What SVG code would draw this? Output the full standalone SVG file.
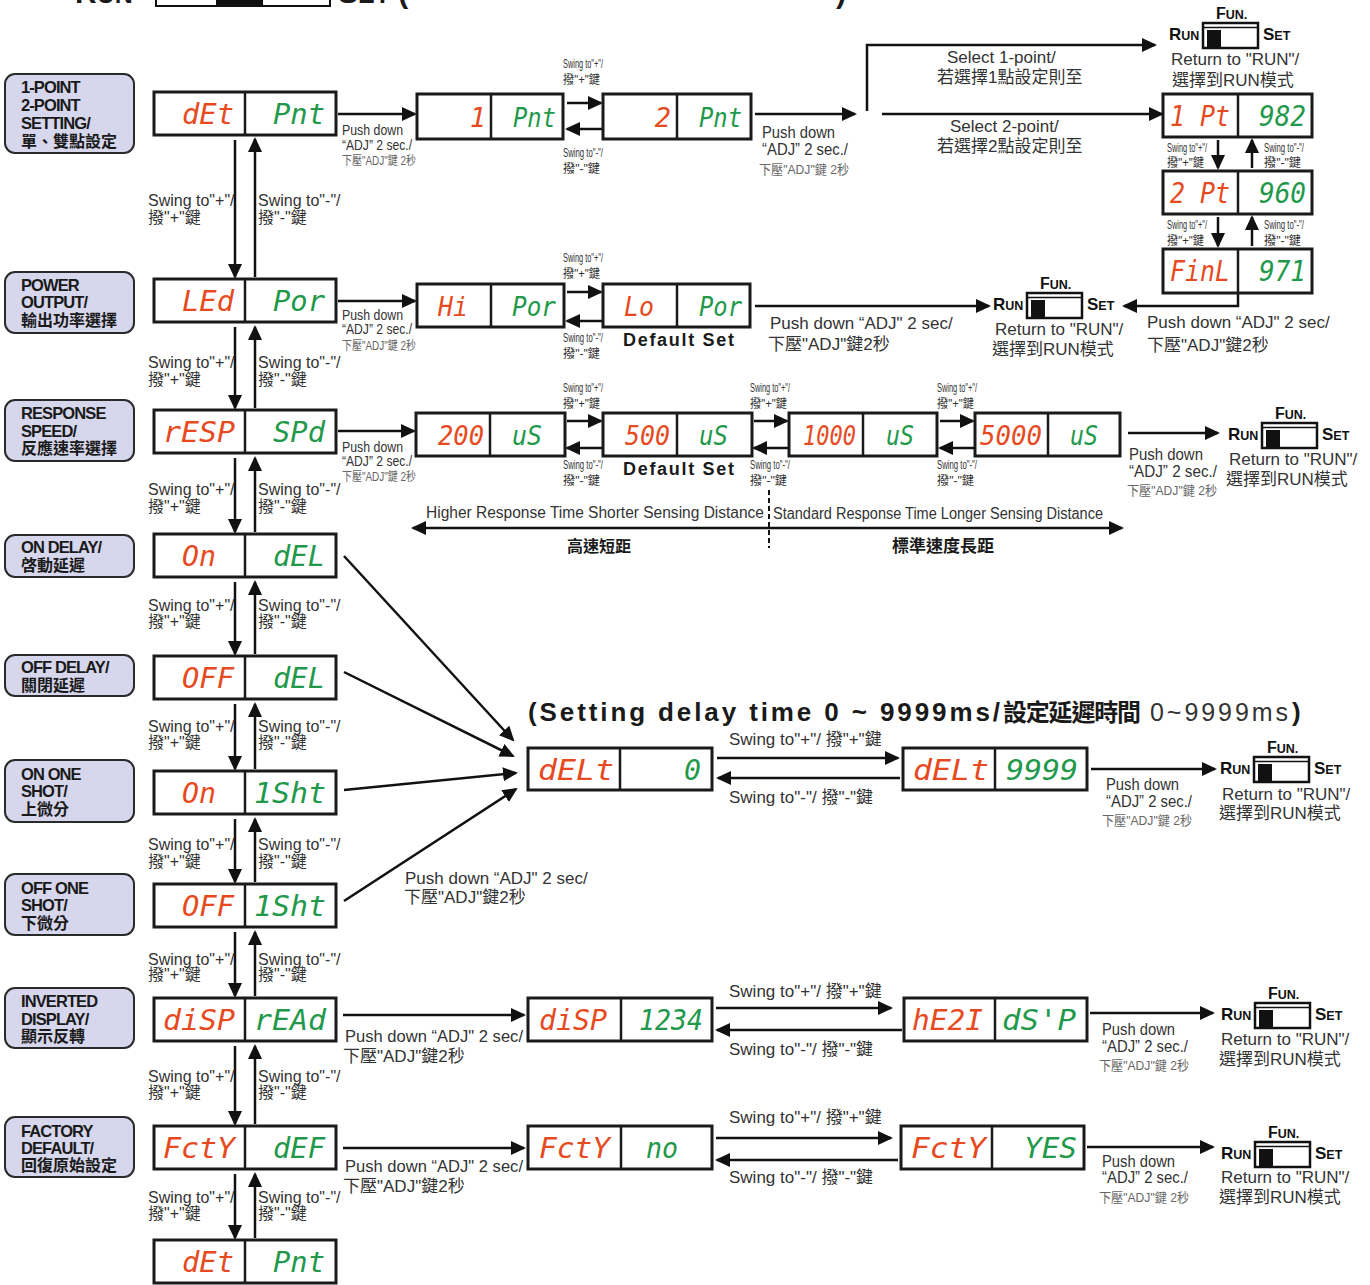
<svg xmlns="http://www.w3.org/2000/svg" xmlns:xlink="http://www.w3.org/1999/xlink" width="1370" height="1285" viewBox="0 0 1370 1285">
<style>
.box{fill:#fff;stroke:#1a1a1a;stroke-width:3}
.dv{stroke:#1a1a1a;stroke-width:2.5}
.tag{fill:#d6d6ec;stroke:#2a2a2a;stroke-width:2}
.tt{font-family:"Liberation Sans","Noto Sans CJK TC",sans-serif;font-weight:bold;font-size:16.5px;letter-spacing:-0.9px;fill:#1a1a1a}
.tc{font-family:"Noto Sans CJK TC",sans-serif;font-weight:bold;font-size:16px;fill:#1a1a1a}
.seg{font-family:"DejaVu Sans Mono",monospace;font-size:29px;font-style:oblique}
.s28{font-size:27px}
.r{fill:#e64a1e}
.g{fill:#22994a}
.t16{font-family:"Liberation Sans","Noto Sans CJK TC",sans-serif;font-size:16px;fill:#333}
.t17{font-family:"Liberation Sans","Noto Sans CJK TC",sans-serif;font-size:17px;fill:#333}
.t14{font-family:"Liberation Sans","Noto Sans CJK TC",sans-serif;font-size:14px;fill:#333}
.sm{font-family:"Liberation Sans","Noto Sans CJK TC",sans-serif;font-size:12px;fill:#333}
.gy{font-family:"Liberation Sans","Noto Sans CJK TC",sans-serif;font-size:12px;fill:#666}
.gy13{font-family:"Liberation Sans","Noto Sans CJK TC",sans-serif;font-size:13px;fill:#666}
.bd{font-family:"Liberation Sans","Noto Sans CJK TC",sans-serif;font-weight:bold;fill:#1a1a1a}
.fn{font-family:"Liberation Sans",sans-serif;font-weight:bold;font-size:12.5px;fill:#111}
.ln{stroke:#111;stroke-width:2.5;fill:none}
.ar{marker-end:url(#ah)}
</style>
<defs>
<marker id="ah" viewBox="0 0 15 14" refX="13" refY="7" markerWidth="15" markerHeight="14" orient="auto-start-reverse" markerUnits="userSpaceOnUse"><path d="M0,0L15,7L0,14z" fill="#111"/></marker>
<g id="fun">
<rect x="0" y="0" width="55" height="25" fill="#fff" stroke="#111" stroke-width="2.5"/>
<line x1="0" y1="4.5" x2="55" y2="4.5" stroke="#111" stroke-width="1.5"/>
<rect x="4" y="7" width="14" height="18" fill="#111"/>
<text class="fn" x="13" y="-4"><tspan font-size="16">F</tspan>UN.</text>
<text class="fn" x="-34" y="17"><tspan font-size="17">R</tspan>UN</text>
<text class="fn" x="60" y="17"><tspan font-size="17">S</tspan>ET</text>
</g>
</defs>
<rect width="1370" height="1285" fill="#fff"/>

<g id="header">
<rect x="156" y="-20" width="174" height="26" fill="#fff" stroke="#111" stroke-width="2"/>
<rect x="216" y="-20" width="47" height="25" fill="#111"/>
<text class="bd" x="75" y="3" font-size="30">R<tspan font-size="25">UN</tspan></text>
<text class="bd" x="338" y="3" font-size="30">S<tspan font-size="25">ET</tspan> (</text>
<text class="bd" x="836" y="3" font-size="30">)</text>
</g>

<g id="labels">
<g id="tag1"><rect class="tag" x="5" y="74" width="129" height="79" rx="10"/><text class="tt" x="21" y="93">1-POINT</text><text class="tt" x="21" y="111">2-POINT</text><text class="tt" x="21" y="129">SETTING/</text><text class="tc" x="21" y="147">單、雙點設定</text></g>
<g id="tag2"><rect class="tag" x="5" y="272" width="129" height="61" rx="10"/><text class="tt" x="21" y="291">POWER</text><text class="tt" x="21" y="308">OUTPUT/</text><text class="tc" x="21" y="326">輸出功率選擇</text></g>
<g id="tag3"><rect class="tag" x="5" y="400" width="129" height="61" rx="10"/><text class="tt" x="21" y="419">RESPONSE</text><text class="tt" x="21" y="437">SPEED/</text><text class="tc" x="21" y="454">反應速率選擇</text></g>
<g id="tag4"><rect class="tag" x="5" y="535" width="129" height="42" rx="10"/><text class="tt" x="21" y="553">ON DELAY/</text><text class="tc" x="21" y="571">啓動延遲</text></g>
<g id="tag5"><rect class="tag" x="5" y="655" width="129" height="41" rx="10"/><text class="tt" x="21" y="673">OFF DELAY/</text><text class="tc" x="21" y="691">關閉延遲</text></g>
<g id="tag6"><rect class="tag" x="5" y="760" width="129" height="62" rx="10"/><text class="tt" x="21" y="780">ON ONE</text><text class="tt" x="21" y="797">SHOT/</text><text class="tc" x="21" y="815">上微分</text></g>
<g id="tag7"><rect class="tag" x="5" y="874" width="129" height="61" rx="10"/><text class="tt" x="21" y="894">OFF ONE</text><text class="tt" x="21" y="911">SHOT/</text><text class="tc" x="21" y="929">下微分</text></g>
<g id="tag8"><rect class="tag" x="5" y="988" width="129" height="60" rx="10"/><text class="tt" x="21" y="1007">INVERTED</text><text class="tt" x="21" y="1025">DISPLAY/</text><text class="tc" x="21" y="1042">顯示反轉</text></g>
<g id="tag9"><rect class="tag" x="5" y="1117" width="129" height="60" rx="10"/><text class="tt" x="21" y="1137">FACTORY</text><text class="tt" x="21" y="1154">DEFAULT/</text><text class="tc" x="21" y="1171">回復原始設定</text></g>
</g>

<g id="main-column">
<g id="m1"><rect class="box" x="154" y="92" width="182" height="43"/><line class="dv" x1="245" y1="92" x2="245" y2="135"/><text class="seg r" x="182" y="124" textLength="52" lengthAdjust="spacingAndGlyphs">dEt</text><text class="seg g" x="273" y="124" textLength="52" lengthAdjust="spacingAndGlyphs">Pnt</text></g>
<g id="m2"><rect class="box" x="154" y="279" width="182" height="43"/><line class="dv" x1="245" y1="279" x2="245" y2="322"/><text class="seg r" x="182" y="311" textLength="52" lengthAdjust="spacingAndGlyphs">LEd</text><text class="seg g" x="273" y="311" textLength="52" lengthAdjust="spacingAndGlyphs">Por</text></g>
<g id="m3"><rect class="box" x="154" y="410" width="182" height="43"/><line class="dv" x1="245" y1="410" x2="245" y2="453"/><text class="seg r" x="163" y="442" textLength="72" lengthAdjust="spacingAndGlyphs">rESP</text><text class="seg g" x="273" y="442" textLength="52" lengthAdjust="spacingAndGlyphs">SPd</text></g>
<g id="m4"><rect class="box" x="154" y="534" width="182" height="43"/><line class="dv" x1="245" y1="534" x2="245" y2="577"/><text class="seg r" x="182" y="566" textLength="34" lengthAdjust="spacingAndGlyphs">On</text><text class="seg g" x="273" y="566" textLength="52" lengthAdjust="spacingAndGlyphs">dEL</text></g>
<g id="m5"><rect class="box" x="154" y="656" width="182" height="43"/><line class="dv" x1="245" y1="656" x2="245" y2="699"/><text class="seg r" x="182" y="688" textLength="52" lengthAdjust="spacingAndGlyphs">OFF</text><text class="seg g" x="273" y="688" textLength="52" lengthAdjust="spacingAndGlyphs">dEL</text></g>
<g id="m6"><rect class="box" x="154" y="771" width="182" height="43"/><line class="dv" x1="245" y1="771" x2="245" y2="814"/><text class="seg r" x="182" y="803" textLength="34" lengthAdjust="spacingAndGlyphs">On</text><text class="seg g" x="254" y="803" textLength="72" lengthAdjust="spacingAndGlyphs">1Sht</text></g>
<g id="m7"><rect class="box" x="154" y="884" width="182" height="43"/><line class="dv" x1="245" y1="884" x2="245" y2="927"/><text class="seg r" x="182" y="916" textLength="52" lengthAdjust="spacingAndGlyphs">OFF</text><text class="seg g" x="254" y="916" textLength="72" lengthAdjust="spacingAndGlyphs">1Sht</text></g>
<g id="m8"><rect class="box" x="154" y="998" width="182" height="43"/><line class="dv" x1="245" y1="998" x2="245" y2="1041"/><text class="seg r" x="163" y="1030" textLength="72" lengthAdjust="spacingAndGlyphs">diSP</text><text class="seg g" x="254" y="1030" textLength="72" lengthAdjust="spacingAndGlyphs">rEAd</text></g>
<g id="m9"><rect class="box" x="154" y="1126" width="182" height="43"/><line class="dv" x1="245" y1="1126" x2="245" y2="1169"/><text class="seg r" x="163" y="1158" textLength="72" lengthAdjust="spacingAndGlyphs">FctY</text><text class="seg g" x="273" y="1158" textLength="52" lengthAdjust="spacingAndGlyphs">dEF</text></g>
<g id="m10"><rect class="box" x="154" y="1240" width="182" height="43"/><line class="dv" x1="245" y1="1240" x2="245" y2="1283"/><text class="seg r" x="182" y="1272" textLength="52" lengthAdjust="spacingAndGlyphs">dEt</text><text class="seg g" x="273" y="1272" textLength="52" lengthAdjust="spacingAndGlyphs">Pnt</text></g>
</g>

<g id="row1-nodes">
<g id="p1"><rect class="box" x="417" y="94" width="146" height="45"/><line class="dv" x1="491" y1="94" x2="491" y2="139"/><text class="seg s28 r" x="486" y="127" text-anchor="end">1</text><text class="seg s28 g" x="513" y="127" textLength="43" lengthAdjust="spacingAndGlyphs">Pnt</text></g>
<g id="p2"><rect class="box" x="603" y="94" width="148" height="45"/><line class="dv" x1="677" y1="94" x2="677" y2="139"/><text class="seg s28 r" x="671" y="127" text-anchor="end">2</text><text class="seg s28 g" x="699" y="127" textLength="43" lengthAdjust="spacingAndGlyphs">Pnt</text></g>
<g id="pt1"><rect class="box" x="1163" y="94" width="149" height="43"/><line class="dv" x1="1238" y1="94" x2="1238" y2="137"/><text class="seg r" x="1170" y="126" textLength="60" lengthAdjust="spacingAndGlyphs">1 Pt</text><text class="seg g" x="1259" y="126" textLength="47" lengthAdjust="spacingAndGlyphs">982</text></g>
<g id="pt2"><rect class="box" x="1163" y="171" width="149" height="43"/><line class="dv" x1="1238" y1="171" x2="1238" y2="214"/><text class="seg r" x="1170" y="203" textLength="60" lengthAdjust="spacingAndGlyphs">2 Pt</text><text class="seg g" x="1259" y="203" textLength="47" lengthAdjust="spacingAndGlyphs">960</text></g>
<g id="ptf"><rect class="box" x="1163" y="249" width="149" height="44"/><line class="dv" x1="1238" y1="249" x2="1238" y2="293"/><text class="seg r" x="1170" y="281" textLength="60" lengthAdjust="spacingAndGlyphs">FinL</text><text class="seg g" x="1259" y="281" textLength="47" lengthAdjust="spacingAndGlyphs">971</text></g>
</g>

<g id="row2-nodes">
<g id="hi"><rect class="box" x="417" y="284" width="147" height="43"/><line class="dv" x1="491" y1="284" x2="491" y2="327"/><text class="seg s28 r" x="438" y="316" textLength="30" lengthAdjust="spacingAndGlyphs">Hi</text><text class="seg s28 g" x="512" y="316" textLength="44" lengthAdjust="spacingAndGlyphs">Por</text></g>
<g id="lo"><rect class="box" x="603" y="284" width="147" height="43"/><line class="dv" x1="677" y1="284" x2="677" y2="327"/><text class="seg s28 r" x="624" y="316" textLength="30" lengthAdjust="spacingAndGlyphs">Lo</text><text class="seg s28 g" x="699" y="316" textLength="43" lengthAdjust="spacingAndGlyphs">Por</text></g>
</g>

<g id="row3-nodes">
<g id="u200"><rect class="box" x="416" y="413" width="149" height="43"/><line class="dv" x1="490" y1="413" x2="490" y2="456"/><text class="seg s28 r" x="438" y="445" textLength="46" lengthAdjust="spacingAndGlyphs">200</text><text class="seg s28 g" x="512" y="445" textLength="30" lengthAdjust="spacingAndGlyphs">uS</text></g>
<g id="u500"><rect class="box" x="603" y="413" width="149" height="43"/><line class="dv" x1="677" y1="413" x2="677" y2="456"/><text class="seg s28 r" x="625" y="445" textLength="45" lengthAdjust="spacingAndGlyphs">500</text><text class="seg s28 g" x="699" y="445" textLength="29" lengthAdjust="spacingAndGlyphs">uS</text></g>
<g id="u1000"><rect class="box" x="789" y="413" width="148" height="43"/><line class="dv" x1="863" y1="413" x2="863" y2="456"/><text class="seg s28 r" x="803" y="445" textLength="53" lengthAdjust="spacingAndGlyphs">1000</text><text class="seg s28 g" x="886" y="445" textLength="28" lengthAdjust="spacingAndGlyphs">uS</text></g>
<g id="u5000"><rect class="box" x="975" y="413" width="145" height="43"/><line class="dv" x1="1048" y1="413" x2="1048" y2="456"/><text class="seg s28 r" x="980" y="445" textLength="62" lengthAdjust="spacingAndGlyphs">5000</text><text class="seg s28 g" x="1070" y="445" textLength="28" lengthAdjust="spacingAndGlyphs">uS</text></g>
</g>

<g id="delay-nodes">
<g id="dl0"><rect class="box" x="528" y="748" width="184" height="42"/><line class="dv" x1="620" y1="748" x2="620" y2="790"/><text class="seg r" x="538" y="780" textLength="76" lengthAdjust="spacingAndGlyphs">dELt</text><text class="seg g" x="684" y="780" textLength="17" lengthAdjust="spacingAndGlyphs">0</text></g>
<g id="dl9"><rect class="box" x="903" y="748" width="184" height="42"/><line class="dv" x1="995" y1="748" x2="995" y2="790"/><text class="seg r" x="913" y="780" textLength="76" lengthAdjust="spacingAndGlyphs">dELt</text><text class="seg g" x="1006" y="780" textLength="72" lengthAdjust="spacingAndGlyphs">9999</text></g>
</g>

<g id="row8-nodes">
<g id="ds1"><rect class="box" x="528" y="998" width="184" height="43"/><line class="dv" x1="621" y1="998" x2="621" y2="1041"/><text class="seg r" x="539" y="1030" textLength="68" lengthAdjust="spacingAndGlyphs">diSP</text><text class="seg g" x="639" y="1030" textLength="64" lengthAdjust="spacingAndGlyphs">1234</text></g>
<g id="ds2"><rect class="box" x="904" y="998" width="183" height="43"/><line class="dv" x1="995" y1="998" x2="995" y2="1041"/><text class="seg r" x="912" y="1030" textLength="71" lengthAdjust="spacingAndGlyphs">hE2I</text><text class="seg g" x="1002" y="1030" textLength="74" lengthAdjust="spacingAndGlyphs">dS'P</text></g>
</g>

<g id="row9-nodes">
<g id="fno"><rect class="box" x="528" y="1126" width="184" height="43"/><line class="dv" x1="621" y1="1126" x2="621" y2="1169"/><text class="seg r" x="539" y="1158" textLength="71" lengthAdjust="spacingAndGlyphs">FctY</text><text class="seg g" x="646" y="1158" textLength="32" lengthAdjust="spacingAndGlyphs">no</text></g>
<g id="fyes"><rect class="box" x="901" y="1126" width="183" height="43"/><line class="dv" x1="992" y1="1126" x2="992" y2="1169"/><text class="seg r" x="911" y="1158" textLength="75" lengthAdjust="spacingAndGlyphs">FctY</text><text class="seg g" x="1024" y="1158" textLength="53" lengthAdjust="spacingAndGlyphs">YES</text></g>
</g>

<g id="switches">
<g id="sw1"><use href="#fun" x="1203" y="23"/><text class="t17" x="1171" y="65">Return to "RUN"/</text><text class="t17" x="1172" y="86">選擇到RUN模式</text></g>
<g id="sw2"><use href="#fun" x="1027" y="293"/><text class="t17" x="995" y="335">Return to "RUN"/</text><text class="t17" x="992" y="355">選擇到RUN模式</text></g>
<g id="sw3"><use href="#fun" x="1262" y="423"/><text class="t17" x="1229" y="465">Return to "RUN"/</text><text class="t17" x="1226" y="485">選擇到RUN模式</text></g>
<g id="sw4"><use href="#fun" x="1254" y="757"/><text class="t17" x="1222" y="800">Return to "RUN"/</text><text class="t17" x="1219" y="819">選擇到RUN模式</text></g>
<g id="sw5"><use href="#fun" x="1255" y="1003"/><text class="t17" x="1221" y="1045">Return to "RUN"/</text><text class="t17" x="1219" y="1065">選擇到RUN模式</text></g>
<g id="sw6"><use href="#fun" x="1255" y="1142"/><text class="t17" x="1221" y="1183">Return to "RUN"/</text><text class="t17" x="1219" y="1203">選擇到RUN模式</text></g>
</g>

<g id="connectors">
<path class="ln ar" d="M235,140V277"/><path class="ln ar" d="M255,277V139"/>
<path class="ln ar" d="M235,327V408"/><path class="ln ar" d="M255,408V327"/>
<path class="ln ar" d="M235,458V532"/><path class="ln ar" d="M255,532V458"/>
<path class="ln ar" d="M235,582V654"/><path class="ln ar" d="M255,654V582"/>
<path class="ln ar" d="M235,704V769"/><path class="ln ar" d="M255,769V704"/>
<path class="ln ar" d="M235,819V882"/><path class="ln ar" d="M255,882V819"/>
<path class="ln ar" d="M235,932V996"/><path class="ln ar" d="M255,996V932"/>
<path class="ln ar" d="M235,1046V1124"/><path class="ln ar" d="M255,1124V1046"/>
<path class="ln ar" d="M235,1174V1238"/><path class="ln ar" d="M255,1238V1174"/>

<path class="ln ar" d="M338,114H415"/>
<path class="ln ar" d="M567,103H601"/><path class="ln ar" d="M602,129H567"/>
<path class="ln ar" d="M755,114H855"/>
<path class="ln ar" d="M867,111V45H1155"/>
<path class="ln ar" d="M882,114H1162"/>
<path class="ln ar" d="M1218,140V168"/><path class="ln ar" d="M1252,168V140"/>
<path class="ln ar" d="M1218,217V246"/><path class="ln ar" d="M1252,246V217"/>
<path class="ln ar" d="M1238,294V306H1124"/>

<path class="ln ar" d="M338,301H415"/>
<path class="ln ar" d="M567,292H601"/><path class="ln ar" d="M602,321H567"/>
<path class="ln ar" d="M755,306H989"/>

<path class="ln ar" d="M338,431H414"/>
<path class="ln ar" d="M567,421H601"/><path class="ln ar" d="M602,448H567"/>
<path class="ln ar" d="M754,421H787"/><path class="ln ar" d="M788,448H754"/>
<path class="ln ar" d="M940,421H973"/><path class="ln ar" d="M974,448H940"/>
<path class="ln ar" d="M1128,433H1218"/>
<path class="ln" d="M413,528H1122" marker-start="url(#ah)" marker-end="url(#ah)"/>
<path d="M769,490V548" stroke="#111" stroke-width="2" stroke-dasharray="5 3"/>

<path class="ln ar" d="M344,556L513,740"/>
<path class="ln ar" d="M344,672L513,756"/>
<path class="ln ar" d="M344,790L516,773"/>
<path class="ln ar" d="M344,901L516,789"/>
<path class="ln ar" d="M717,758H898"/><path class="ln ar" d="M900,778H718"/>
<path class="ln ar" d="M1091,769H1215"/>

<path class="ln ar" d="M343,1015H524"/>
<path class="ln ar" d="M716,1008H891"/><path class="ln ar" d="M902,1030H717"/>
<path class="ln ar" d="M1090,1013H1213"/>

<path class="ln ar" d="M343,1148H524"/>
<path class="ln ar" d="M716,1138H891"/><path class="ln ar" d="M898,1160H717"/>
<path class="ln ar" d="M1087,1147H1213"/>
</g>

<g id="texts">
<text class="t16" x="148" y="206">Swing to"+"/</text><text class="t16" x="148" y="223">撥"+"鍵</text><text class="t16" x="258" y="206">Swing to"-"/</text><text class="t16" x="258" y="223">撥"-"鍵</text>
<text class="t16" x="148" y="368">Swing to"+"/</text><text class="t16" x="148" y="385">撥"+"鍵</text><text class="t16" x="258" y="368">Swing to"-"/</text><text class="t16" x="258" y="385">撥"-"鍵</text>
<text class="t16" x="148" y="495">Swing to"+"/</text><text class="t16" x="148" y="512">撥"+"鍵</text><text class="t16" x="258" y="495">Swing to"-"/</text><text class="t16" x="258" y="512">撥"-"鍵</text>
<text class="t16" x="148" y="611">Swing to"+"/</text><text class="t16" x="148" y="627">撥"+"鍵</text><text class="t16" x="258" y="611">Swing to"-"/</text><text class="t16" x="258" y="627">撥"-"鍵</text>
<text class="t16" x="148" y="732">Swing to"+"/</text><text class="t16" x="148" y="748">撥"+"鍵</text><text class="t16" x="258" y="732">Swing to"-"/</text><text class="t16" x="258" y="748">撥"-"鍵</text>
<text class="t16" x="148" y="850">Swing to"+"/</text><text class="t16" x="148" y="867">撥"+"鍵</text><text class="t16" x="258" y="850">Swing to"-"/</text><text class="t16" x="258" y="867">撥"-"鍵</text>
<text class="t16" x="148" y="965">Swing to"+"/</text><text class="t16" x="148" y="980">撥"+"鍵</text><text class="t16" x="258" y="965">Swing to"-"/</text><text class="t16" x="258" y="980">撥"-"鍵</text>
<text class="t16" x="148" y="1082">Swing to"+"/</text><text class="t16" x="148" y="1098">撥"+"鍵</text><text class="t16" x="258" y="1082">Swing to"-"/</text><text class="t16" x="258" y="1098">撥"-"鍵</text>
<text class="t16" x="148" y="1203">Swing to"+"/</text><text class="t16" x="148" y="1219">撥"+"鍵</text><text class="t16" x="258" y="1203">Swing to"-"/</text><text class="t16" x="258" y="1219">撥"-"鍵</text>

<text class="t14" x="342" y="135" textLength="61" lengthAdjust="spacingAndGlyphs">Push down</text><text class="t14" x="342" y="150" textLength="70" lengthAdjust="spacingAndGlyphs">“ADJ” 2 sec./</text><text class="gy" x="342" y="165" textLength="74" lengthAdjust="spacingAndGlyphs">下壓"ADJ"鍵 2秒</text>
<text class="t14" x="342" y="320" textLength="61" lengthAdjust="spacingAndGlyphs">Push down</text><text class="t14" x="342" y="334" textLength="70" lengthAdjust="spacingAndGlyphs">“ADJ” 2 sec./</text><text class="gy" x="342" y="350" textLength="74" lengthAdjust="spacingAndGlyphs">下壓"ADJ"鍵 2秒</text>
<text class="t14" x="342" y="452" textLength="61" lengthAdjust="spacingAndGlyphs">Push down</text><text class="t14" x="342" y="466" textLength="70" lengthAdjust="spacingAndGlyphs">“ADJ” 2 sec./</text><text class="gy" x="342" y="481" textLength="74" lengthAdjust="spacingAndGlyphs">下壓"ADJ"鍵 2秒</text>

<text class="sm" x="563" y="68" textLength="40" lengthAdjust="spacingAndGlyphs">Swing to"+"/</text><text class="sm" x="563" y="84" textLength="37" lengthAdjust="spacingAndGlyphs">撥"+"鍵</text>
<text class="sm" x="563" y="157" textLength="40" lengthAdjust="spacingAndGlyphs">Swing to"-"/</text><text class="sm" x="563" y="173" textLength="37" lengthAdjust="spacingAndGlyphs">撥"-"鍵</text>
<text class="sm" x="563" y="262" textLength="40" lengthAdjust="spacingAndGlyphs">Swing to"+"/</text><text class="sm" x="563" y="278" textLength="37" lengthAdjust="spacingAndGlyphs">撥"+"鍵</text>
<text class="sm" x="563" y="342" textLength="40" lengthAdjust="spacingAndGlyphs">Swing to"-"/</text><text class="sm" x="563" y="358" textLength="37" lengthAdjust="spacingAndGlyphs">撥"-"鍵</text>
<text class="sm" x="563" y="392" textLength="40" lengthAdjust="spacingAndGlyphs">Swing to"+"/</text><text class="sm" x="563" y="408" textLength="37" lengthAdjust="spacingAndGlyphs">撥"+"鍵</text>
<text class="sm" x="563" y="469" textLength="40" lengthAdjust="spacingAndGlyphs">Swing to"-"/</text><text class="sm" x="563" y="485" textLength="37" lengthAdjust="spacingAndGlyphs">撥"-"鍵</text>
<text class="sm" x="750" y="392" textLength="40" lengthAdjust="spacingAndGlyphs">Swing to"+"/</text><text class="sm" x="750" y="408" textLength="37" lengthAdjust="spacingAndGlyphs">撥"+"鍵</text>
<text class="sm" x="750" y="469" textLength="40" lengthAdjust="spacingAndGlyphs">Swing to"-"/</text><text class="sm" x="750" y="485" textLength="37" lengthAdjust="spacingAndGlyphs">撥"-"鍵</text>
<text class="sm" x="937" y="392" textLength="40" lengthAdjust="spacingAndGlyphs">Swing to"+"/</text><text class="sm" x="937" y="408" textLength="37" lengthAdjust="spacingAndGlyphs">撥"+"鍵</text>
<text class="sm" x="937" y="469" textLength="40" lengthAdjust="spacingAndGlyphs">Swing to"-"/</text><text class="sm" x="937" y="485" textLength="37" lengthAdjust="spacingAndGlyphs">撥"-"鍵</text>
<text class="sm" x="1167" y="152" textLength="40" lengthAdjust="spacingAndGlyphs">Swing to"+"/</text><text class="sm" x="1167" y="167" textLength="37" lengthAdjust="spacingAndGlyphs">撥"+"鍵</text>
<text class="sm" x="1264" y="152" textLength="40" lengthAdjust="spacingAndGlyphs">Swing to"-"/</text><text class="sm" x="1264" y="167" textLength="37" lengthAdjust="spacingAndGlyphs">撥"-"鍵</text>
<text class="sm" x="1167" y="229" textLength="40" lengthAdjust="spacingAndGlyphs">Swing to"+"/</text><text class="sm" x="1167" y="245" textLength="37" lengthAdjust="spacingAndGlyphs">撥"+"鍵</text>
<text class="sm" x="1264" y="229" textLength="40" lengthAdjust="spacingAndGlyphs">Swing to"-"/</text><text class="sm" x="1264" y="245" textLength="37" lengthAdjust="spacingAndGlyphs">撥"-"鍵</text>

<text class="t17" x="762" y="138" textLength="73" lengthAdjust="spacingAndGlyphs">Push down</text><text class="t17" x="762" y="155" textLength="86" lengthAdjust="spacingAndGlyphs">“ADJ” 2 sec./</text><text class="gy13" x="759" y="174" textLength="90" lengthAdjust="spacingAndGlyphs">下壓"ADJ"鍵 2秒</text>
<text class="t17" x="947" y="63">Select 1-point/</text><text class="t17" x="937" y="83">若選擇1點設定則至</text>
<text class="t17" x="950" y="132">Select 2-point/</text><text class="t17" x="937" y="152">若選擇2點設定則至</text>

<text class="t17" x="1147" y="328">Push down “ADJ" 2 sec/</text><text class="t17" x="1147" y="351">下壓"ADJ"鍵2秒</text>
<text class="t17" x="770" y="329">Push down “ADJ" 2 sec/</text><text class="t17" x="768" y="350">下壓"ADJ"鍵2秒</text>
<text class="bd" x="623" y="346" font-size="18" textLength="111">Default Set</text>
<text class="bd" x="623" y="475" font-size="18" textLength="111">Default Set</text>

<text class="t17" x="1129" y="460" textLength="74" lengthAdjust="spacingAndGlyphs">Push down</text><text class="t17" x="1129" y="477" textLength="88" lengthAdjust="spacingAndGlyphs">“ADJ” 2 sec./</text><text class="gy13" x="1127" y="495" textLength="90" lengthAdjust="spacingAndGlyphs">下壓"ADJ"鍵 2秒</text>

<text class="t16" x="426" y="518" textLength="338" lengthAdjust="spacingAndGlyphs">Higher Response Time Shorter Sensing Distance</text>
<text class="t16" x="773" y="519" textLength="330" lengthAdjust="spacingAndGlyphs">Standard Response Time Longer Sensing Distance</text>
<text class="bd" x="567" y="552" font-size="16">高速短距</text>
<text class="bd" x="892" y="552" font-size="17">標準速度長距</text>

<text class="bd" x="528" y="721" font-size="26" textLength="472">(Setting delay time 0 ~ 9999ms/</text>
<text class="bd" x="1003" y="721" font-size="24" textLength="138">設定延遲時間</text>
<text x="1150" y="721" font-family="Liberation Sans, sans-serif" font-size="25" fill="#333" textLength="138">0~9999ms</text>
<text class="bd" x="1292" y="721" font-size="26">)</text>

<text class="t17" x="729" y="745">Swing to"+"/ 撥"+"鍵</text><text class="t17" x="729" y="803">Swing to"-"/ 撥"-"鍵</text>
<text class="t17" x="1106" y="790" textLength="73" lengthAdjust="spacingAndGlyphs">Push down</text><text class="t17" x="1106" y="807" textLength="86" lengthAdjust="spacingAndGlyphs">“ADJ” 2 sec./</text><text class="gy13" x="1102" y="825" textLength="90" lengthAdjust="spacingAndGlyphs">下壓"ADJ"鍵 2秒</text>
<text class="t17" x="405" y="884">Push down “ADJ" 2 sec/</text><text class="t17" x="404" y="903">下壓"ADJ"鍵2秒</text>

<text class="t17" x="345" y="1042" textLength="178" lengthAdjust="spacingAndGlyphs">Push down “ADJ" 2 sec/</text><text class="t17" x="343" y="1062">下壓"ADJ"鍵2秒</text>
<text class="t17" x="729" y="997">Swing to"+"/ 撥"+"鍵</text><text class="t17" x="729" y="1055">Swing to"-"/ 撥"-"鍵</text>
<text class="t17" x="1102" y="1035" textLength="73" lengthAdjust="spacingAndGlyphs">Push down</text><text class="t17" x="1102" y="1052" textLength="86" lengthAdjust="spacingAndGlyphs">“ADJ” 2 sec./</text><text class="gy13" x="1099" y="1070" textLength="90" lengthAdjust="spacingAndGlyphs">下壓"ADJ"鍵 2秒</text>

<text class="t17" x="345" y="1172" textLength="178" lengthAdjust="spacingAndGlyphs">Push down “ADJ" 2 sec/</text><text class="t17" x="343" y="1192">下壓"ADJ"鍵2秒</text>
<text class="t17" x="729" y="1123">Swing to"+"/ 撥"+"鍵</text><text class="t17" x="729" y="1183">Swing to"-"/ 撥"-"鍵</text>
<text class="t17" x="1102" y="1167" textLength="73" lengthAdjust="spacingAndGlyphs">Push down</text><text class="t17" x="1102" y="1183" textLength="86" lengthAdjust="spacingAndGlyphs">“ADJ” 2 sec./</text><text class="gy13" x="1099" y="1202" textLength="90" lengthAdjust="spacingAndGlyphs">下壓"ADJ"鍵 2秒</text>
</g>
</svg>
